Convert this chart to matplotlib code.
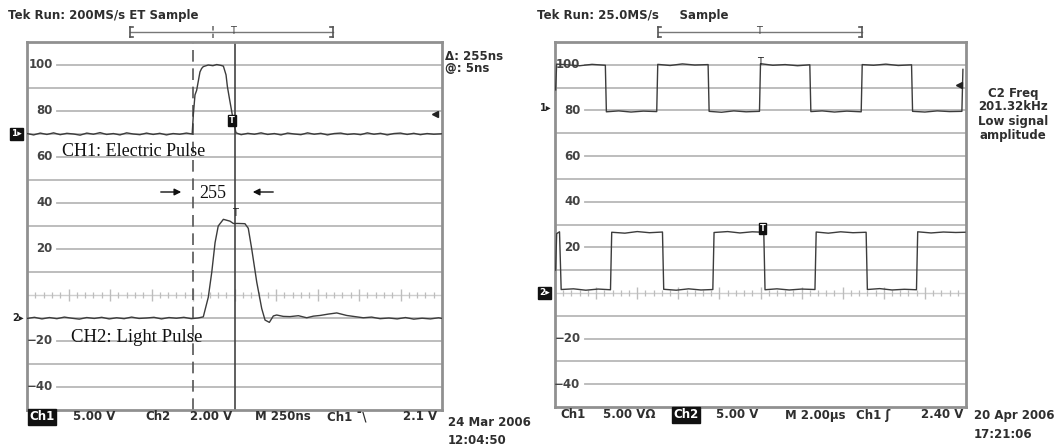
import matplotlib
matplotlib.use("Agg")
import matplotlib.pyplot as plt
import matplotlib.transforms as mtransforms
from matplotlib.lines import Line2D
from matplotlib.patches import FancyArrowPatch

# ---------------- data ----------------
# Left scope: time in ns (250 ns/div, 10 div), vertical in graticule units
ch1_left_t = [0, 40, 80, 120, 160, 200, 240, 280, 320, 360, 400, 440, 480, 520, 560,
              600, 640, 680, 720, 760, 800, 840, 880, 920, 960, 995,
              1002, 1012, 1022, 1042, 1052, 1062, 1092, 1120, 1143, 1170, 1183, 1199,
              1207, 1219, 1233, 1243, 1259,
              1290, 1330, 1370, 1410, 1450, 1490, 1530, 1570, 1610, 1650, 1690, 1730,
              1770, 1810, 1850, 1890, 1930, 1970, 2010, 2050, 2090, 2130, 2170, 2210,
              2250, 2290, 2330, 2370, 2410, 2450, 2500]
ch1_left_v = [70.2, 69.6, 70.4, 69.8, 70.5, 69.7, 70.3, 70.0, 69.5, 70.4, 69.9, 70.6, 69.8, 70.2, 69.6,
              70.5, 70.0, 69.7, 70.4, 69.8, 70.3, 69.6, 70.2, 69.9, 70.4, 70.0,
              78.4, 87.0, 89.0, 97.0, 98.5, 99.3, 100.0, 99.7, 100.2, 99.8, 99.5, 95.7,
              90.7, 85.6, 79.9, 75.6, 70.5,
              69.7, 70.3, 69.9, 70.5, 69.8, 70.2, 69.6, 70.4, 70.0, 69.7, 70.5, 69.9,
              70.3, 69.6, 70.2, 70.4, 69.8, 70.1, 69.7, 70.5, 69.9, 70.3, 69.6, 70.2,
              70.4, 69.8, 70.3, 69.7, 70.2, 69.9, 70.1]

ch2_left_t = [0, 45, 90, 135, 180, 225, 270, 315, 360, 405, 450, 495, 540, 585, 630,
              675, 720, 765, 810, 855, 900, 945, 990, 1030, 1062, 1092, 1113, 1133,
              1152, 1183, 1223, 1243, 1273, 1313, 1333, 1354, 1384, 1414, 1434, 1460,
              1484, 1504, 1544, 1584, 1635, 1685, 1725, 1765, 1815, 1866, 1926, 1976,
              2026, 2076, 2127, 2180, 2230, 2280, 2330, 2380, 2430, 2480, 2500]
ch2_left_v = [-10.2, -9.7, -10.4, -9.8, -10.3, -9.6, -10.1, -10.5, -9.8, -10.2, -9.7, -10.4,
              -9.9, -10.3, -9.6, -10.2, -10.0, -9.7, -10.4, -9.8, -10.1, -9.7, -10.3, -10.0,
              -9.5, -1.0, 9.9, 22.8, 30.0, 32.9, 32.1, 31.1, 31.1, 31.0, 29.0, 19.9, 5.6,
              -5.9, -10.9, -11.9, -9.1, -8.7, -9.3, -9.4, -9.0, -9.9, -9.2, -8.9, -8.3,
              -7.8, -8.9, -9.4, -9.9, -9.6, -10.3, -10.0, -10.4, -9.8, -10.5, -10.1, -10.4,
              -9.9, -10.2]

# Right scope: time in microseconds (2 us/div, 10 div)
ch1_right_t = [0.03, 0.08, 0.6, 1.2, 1.8, 2.45,
               2.50, 3.1, 3.7, 4.3, 4.95,
               5.00, 5.6, 6.2, 6.8, 7.45,
               7.50, 8.1, 8.7, 9.3, 9.95,
               10.0, 10.6, 11.2, 11.8, 12.40,
               12.45, 13.0, 13.6, 14.2, 14.90,
               14.95, 15.5, 16.1, 16.7, 17.35,
               17.40, 18.0, 18.6, 19.2, 19.80,
               19.85]
ch1_right_v = [89, 100.3, 100.0, 99.6, 100.2, 99.8,
               79.4, 79.8, 79.3, 79.7, 79.5,
               100.2, 99.7, 100.4, 99.9, 100.1,
               79.6, 79.2, 79.8, 79.4, 79.6,
               100.5, 99.8, 100.1, 99.6, 100.0,
               79.5, 79.8, 79.3, 79.7, 79.4,
               100.1, 99.8, 100.3, 99.7, 100.0,
               79.6, 79.3, 79.8, 79.5, 79.6,
               98]

ch2_right_t = [0.03, 0.08, 0.22,
               0.30, 0.9, 1.5, 2.1, 2.70,
               2.76, 3.4, 4.0, 4.6, 5.23,
               5.29, 5.9, 6.5, 7.1, 7.68,
               7.74, 8.4, 9.0, 9.6, 10.16,
               10.22, 10.8, 11.4, 12.0, 12.65,
               12.71, 13.3, 13.9, 14.5, 15.14,
               15.20, 15.8, 16.4, 17.0, 17.59,
               17.65, 18.3, 18.9, 19.5, 19.95]
ch2_right_v = [10, 26.0, 26.8,
               1.5, 1.8, 1.2, 1.7, 1.4,
               26.6, 26.2, 26.9, 26.4, 26.7,
               1.6, 1.2, 1.8, 1.3, 1.5,
               26.5, 26.9, 26.3, 26.8, 26.6,
               1.4, 1.8, 1.3, 1.7, 1.5,
               26.7, 26.2, 26.8, 26.4, 26.6,
               1.5, 1.9, 1.3, 1.6, 1.4,
               26.8, 26.3, 26.7, 26.5, 26.6]

grid_levels = [-40, -30, -20, -10, 10, 20, 30, 40, 50, 60, 70, 80, 90, 100]
labelled_levels = [100, 80, 60, 40, 20, -20, -40]

cursor_a_ns = 998
cursor_b_ns = 1253

left_status = ["5.00 V", "Ch2", "2.00 V", "M 250ns", "Ch1 ˉ\\", "2.1 V"]
right_status = ["Ch1", "5.00 VΩ", "5.00 V", "M 2.00µs", "Ch1 ʃ", "2.40 V"]

# ---------------- layout ----------------
W, H = 1056, 446
fig = plt.figure(figsize=(W / 100, H / 100), dpi=100)
fig.patch.set_facecolor("white")


def fx(px):
    return px / W


def fy(py):
    return 1 - py / H


TXT = "#2e2e2e"
GRID = "#b8b8b8"
TRACE = "#3c3c3c"
SANS = "DejaVu Sans"
SERIF = "Liberation Serif"

ax1 = fig.add_axes([fx(27), fy(410), fx(442) - fx(27), fy(42) - fy(410)])
ax2 = fig.add_axes([fx(555), fy(407), fx(966) - fx(555), fy(42) - fy(407)])
ax1.set_xlim(0, 2500)
ax2.set_xlim(0, 20)


def graticule(ax):
    ax.set_ylim(-50, 110)
    ax.set_xticks([])
    ax.set_yticks([])
    for s in ax.spines.values():
        s.set_color("#909090")
        s.set_linewidth(2.0)
    tr = mtransforms.blended_transform_factory(ax.transAxes, ax.transData)
    for v in grid_levels:
        if v in labelled_levels:
            ax.plot([0.073, 1], [v, v], transform=tr, color=GRID, lw=1.3, zorder=1)
            lab = str(v).replace("-", "\u2212")
            ax.text(0.062, v, lab, transform=tr, ha="right", va="center",
                    fontsize=8.5, color="#444444", family=SANS, fontweight="bold")
        else:
            ax.plot([0, 1], [v, v], transform=tr, color=GRID, lw=1.3, zorder=1)
    # dotted centre line with small graduation ticks
    ax.plot([0, 1], [0, 0], transform=tr, color="#cfcfcf", lw=1.0, zorder=1)
    minor = [i / 50 for i in range(1, 50) if i % 5]
    major = [i / 10 for i in range(1, 10)]
    ax.plot(minor, [0] * len(minor), transform=tr, ls="none", marker="|",
            ms=4.5, mew=0.9, color="#bdbdbd", zorder=1)
    ax.plot(major, [0] * len(major), transform=tr, ls="none", marker="|",
            ms=8, mew=1.0, color="#bdbdbd", zorder=1)
    return tr


tr1 = graticule(ax1)
tr2 = graticule(ax2)

# traces
ax1.plot(ch1_left_t, ch1_left_v, color=TRACE, lw=1.0, zorder=3)
ax1.plot(ch2_left_t, ch2_left_v, color=TRACE, lw=1.0, zorder=3)
ax2.plot(ch1_right_t, ch1_right_v, color=TRACE, lw=1.0, zorder=3)
ax2.plot(ch2_right_t, ch2_right_v, color=TRACE, lw=1.0, zorder=3)

# cursors (left scope)
ax1.axvline(cursor_a_ns, color="#555555", lw=1.2, ls=(0, (7, 4)), zorder=2)
ax1.axvline(cursor_b_ns, color="#444444", lw=1.2, zorder=2)

# trigger level markers and trigger position boxes
ax1.plot([0.983], [78.5], transform=tr1, marker="<", ms=5, color="#222222", ls="none", zorder=4)
ax2.plot([0.983], [91], transform=tr2, marker="<", ms=5, color="#222222", ls="none", zorder=4)
box = dict(boxstyle="square,pad=0.12", facecolor="#111111", edgecolor="#111111")
ax1.text(1236, 76, "T", ha="center", va="center", fontsize=6, color="white",
         fontweight="bold", bbox=box, zorder=5)
ax2.text(10.1, 28.3, "T", ha="center", va="center", fontsize=6, color="white",
         fontweight="bold", bbox=box, zorder=5)
ax1.text(cursor_b_ns, 33.5, "T", ha="center", va="bottom", fontsize=7, color="#222222", zorder=5)
ax2.text(9.98, 99, "T", ha="center", va="bottom", fontsize=7, color="#222222", zorder=5)

# channel ground markers (outside the axes, left)
ax1.text(-0.012, 70, "1\u25b8", transform=tr1, ha="right", va="center", fontsize=6.5,
         color="white", fontweight="bold", bbox=box, clip_on=False)
ax1.text(-0.008, -10, "2\u25b8", transform=tr1, ha="right", va="center", fontsize=7,
         color="#222222", fontweight="bold", clip_on=False)
ax2.text(-0.008, 81, "1\u25b8", transform=tr2, ha="right", va="center", fontsize=7,
         color="#222222", fontweight="bold", clip_on=False)
ax2.text(-0.012, 0, "2\u25b8", transform=tr2, ha="right", va="center", fontsize=6.5,
         color="white", fontweight="bold", bbox=box, clip_on=False)

# ---------------- header text and record brackets ----------------
fig.text(fx(8), fy(16), "Tek Run: 200MS/s ET Sample", fontsize=8.5, color=TXT,
         family=SANS, fontweight="bold", va="center", ha="left")
fig.text(fx(537), fy(16), "Tek Run: 25.0MS/s     Sample", fontsize=8.5, color=TXT,
         family=SANS, fontweight="bold", va="center", ha="left")


def bracket(x0, x1, y, marks):
    fig.add_artist(Line2D([fx(x0), fx(x1)], [fy(y), fy(y)], color="#777777", lw=1.0))
    for xb, d in ((x0, 1), (x1, -1)):
        fig.add_artist(Line2D([fx(xb), fx(xb)], [fy(y - 5), fy(y + 5)], color="#555555", lw=1.2))
        fig.add_artist(Line2D([fx(xb), fx(xb + 3 * d)], [fy(y - 5), fy(y - 5)], color="#555555", lw=1.2))
        fig.add_artist(Line2D([fx(xb), fx(xb + 3 * d)], [fy(y + 5), fy(y + 5)], color="#555555", lw=1.2))
    for xm, kind in marks:
        if kind == "T":
            fig.text(fx(xm), fy(y - 1), "T", fontsize=7, ha="center", va="center", color="#444444")
        else:
            fig.add_artist(Line2D([fx(xm), fx(xm)], [fy(y - 6), fy(y + 6)], color="#666666",
                                  lw=1.1, ls=(0, (3, 2))))


bracket(130, 333, 32, [(213, "d"), (233, "T")])
bracket(658, 862, 32, [(759, "T")])

# cursor readout
fig.text(fx(445), fy(56), "\u0394: 255ns", fontsize=8.5, color=TXT, family=SANS,
         fontweight="bold", va="center")
fig.text(fx(445), fy(69), "@: 5ns", fontsize=8.5, color=TXT, family=SANS,
         fontweight="bold", va="center")

# frequency readout
for i, s in enumerate(["C2 Freq", "201.32kHz", "Low signal", "amplitude"]):
    fig.text(fx(1013), fy(93 + 14 * i), s, fontsize=8.5, color=TXT, family=SANS,
             fontweight="bold", ha="center", va="center")

# ---------------- status lines ----------------
fig.text(fx(42), fy(417), "Ch1", fontsize=8.5, color="white", family=SANS, fontweight="bold",
         ha="center", va="center", bbox=box)
for x, s in zip([73, 145, 190, 255, 327], left_status[:5]):
    fig.text(fx(x), fy(417), s, fontsize=8.5, color=TXT, family=SANS, fontweight="bold",
             ha="left", va="center")
fig.text(fx(437), fy(417), left_status[5], fontsize=8.5, color=TXT, family=SANS,
         fontweight="bold", ha="right", va="center")
fig.text(fx(448), fy(423), "24 Mar 2006", fontsize=8.5, color=TXT, family=SANS,
         fontweight="bold", ha="left", va="center")
fig.text(fx(448), fy(441), "12:04:50", fontsize=8.5, color=TXT, family=SANS,
         fontweight="bold", ha="left", va="center")

for x, s in zip([560, 603, 716, 785, 856], [right_status[i] for i in (0, 1, 2, 3, 4)]):
    fig.text(fx(x), fy(415), s, fontsize=8.5, color=TXT, family=SANS, fontweight="bold",
             ha="left", va="center")
fig.text(fx(686), fy(415), "Ch2", fontsize=8.5, color="white", family=SANS, fontweight="bold",
         ha="center", va="center", bbox=box)
fig.text(fx(963), fy(415), right_status[5], fontsize=8.5, color=TXT, family=SANS,
         fontweight="bold", ha="right", va="center")
fig.text(fx(974), fy(416), "20 Apr 2006", fontsize=8.5, color=TXT, family=SANS,
         fontweight="bold", ha="left", va="center")
fig.text(fx(974), fy(435), "17:21:06", fontsize=8.5, color=TXT, family=SANS,
         fontweight="bold", ha="left", va="center")

# ---------------- annotations (serif) ----------------
fig.text(fx(62), fy(151), "CH1: Electric Pulse", fontsize=13, family=SERIF,
         color="#111111", ha="left", va="center")
fig.text(fx(71), fy(337), "CH2: Light Pulse", fontsize=13.5, family=SERIF,
         color="#111111", ha="left", va="center")
fig.text(fx(213), fy(193), "255", fontsize=13, family=SERIF, color="#111111",
         ha="center", va="center")
fig.add_artist(FancyArrowPatch(
    (fx(158), fy(192)), (fx(184), fy(192)), transform=fig.transFigure,
    arrowstyle="-|>,head_length=4,head_width=2", color="#111111", lw=1.0))
fig.add_artist(FancyArrowPatch(
    (fx(276), fy(192)), (fx(250), fy(192)), transform=fig.transFigure,
    arrowstyle="-|>,head_length=4,head_width=2", color="#111111", lw=1.0))

fig.savefig("out.png", dpi=100, facecolor="white")
